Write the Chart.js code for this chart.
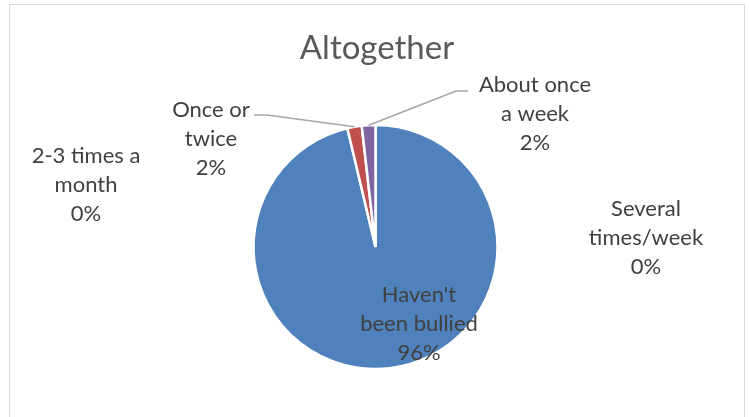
<!DOCTYPE html>
<html>
<head>
<meta charset="utf-8">
<script src="https://cdn.jsdelivr.net/npm/chart.js@4.4.1/dist/chart.umd.min.js"></script>
<style>
  html, body { margin: 0; padding: 0; background: #fff; }
  #wrap { position: relative; width: 749px; height: 417px; }
</style>
</head>
<body>
<div id="wrap"><canvas id="pieChart" width="749" height="417"></canvas></div>
<script>
const chartTitle = 'Altogether';
const categories = [
    ["Haven't", 'been bullied'],
    ['2-3 times a', 'month'],
    ['Once or', 'twice'],
    ['About once', 'a week'],
    ['Several', 'times/week']
];
const shares = [96.3, 0, 1.9, 1.8, 0];
const sliceColors = ['#4F81BD', '#9BBB59', '#C0504D', '#8064A2', '#4BACC6'];

// label anchor (centre of first line) and optional leader elbow, per slice
const labelSpots = [
    { x: 419, y: 295 },
    { x: 86, y: 156 },
    { x: 211, y: 110, leader: [[254, 115], [267, 115]] },
    { x: 535, y: 85, leader: [[468, 91], [456, 91]] },
    { x: 646, y: 209 }
];

const FONT = 'Lato, "Open Sans", sans-serif';

const decor = {
    id: 'decor',
    beforeDraw(chart) {
        const ctx = chart.ctx;
        ctx.save();
        ctx.fillStyle = '#fff';
        ctx.fillRect(0, 0, chart.width, chart.height);
        ctx.strokeStyle = '#d9d9d9';
        ctx.lineWidth = 1;
        ctx.strokeRect(9.5, 4.5, 735, 440);
        ctx.restore();
    },
    afterDatasetsDraw(chart) {
        const ctx = chart.ctx;
        const arcs = chart.getDatasetMeta(0).data;
        ctx.save();

        // title
        ctx.fillStyle = '#595959';
        ctx.font = '33px ' + FONT;
        ctx.textAlign = 'center';
        ctx.textBaseline = 'middle';
        ctx.fillText(chartTitle, 377, 48);

        // leaders
        ctx.strokeStyle = '#a6a6a6';
        ctx.lineWidth = 1.5;
        labelSpots.forEach((spot, i) => {
            if (!spot.leader) return;
            const arc = arcs[i];
            const mid = (arc.startAngle + arc.endAngle) / 2;
            ctx.beginPath();
            ctx.moveTo(spot.leader[0][0], spot.leader[0][1]);
            ctx.lineTo(spot.leader[1][0], spot.leader[1][1]);
            ctx.lineTo(arc.x + Math.cos(mid) * arc.outerRadius, arc.y + Math.sin(mid) * arc.outerRadius);
            ctx.stroke();
        });

        // data labels
        ctx.fillStyle = '#404040';
        ctx.font = '22px ' + FONT;
        labelSpots.forEach((spot, i) => {
            const lines = categories[i].concat([Math.round(shares[i]) + '%']);
            lines.forEach((t, k) => ctx.fillText(t, spot.x, spot.y + k * 29));
        });
        ctx.restore();
    }
};

new Chart(document.getElementById('pieChart'), {
    type: 'pie',
    data: {
        labels: categories.map(c => c.join(' ')),
        datasets: [{
            data: shares,
            backgroundColor: sliceColors,
            borderColor: '#ffffff',
            borderWidth: 2.5
        }]
    },
    options: {
        responsive: false,
        animation: false,
        radius: 122,
        layout: { padding: { left: 255, right: 253, top: 126, bottom: 49 } },
        plugins: {
            legend: { display: false },
            tooltip: { enabled: false },
            title: { display: false }
        }
    },
    plugins: [decor]
});
</script>
</body>
</html>
